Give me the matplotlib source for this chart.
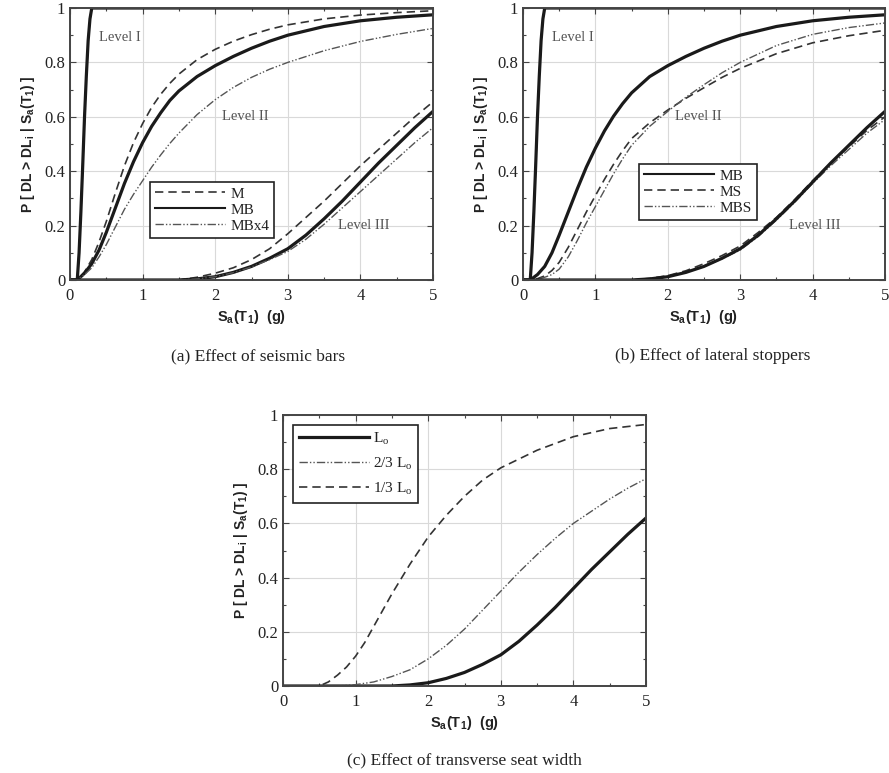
import matplotlib
matplotlib.use("Agg")
import matplotlib.pyplot as plt
from matplotlib.ticker import MultipleLocator

plt.rcParams['font.family'] = ['Liberation Serif', 'DejaVu Serif']
plt.rcParams['mathtext.fontset'] = 'custom'
plt.rcParams['mathtext.rm'] = 'Liberation Sans'

# ---------------- data ----------------
# Level I (all variants nearly identical)
x_L1 = [0, 0.1, 0.125, 0.15, 0.175, 0.2, 0.225, 0.25, 0.275, 0.3, 5]
y_L1 = [0, 0, 0.1, 0.25, 0.42, 0.6, 0.75, 0.88, 0.96, 1.0, 1.0]

# Level II
x_L2 = [0, 0.1, 0.2, 0.3, 0.4, 0.5, 0.625, 0.75, 0.875, 1, 1.125, 1.25, 1.375, 1.5, 1.75, 2,
        2.25, 2.5, 2.75, 3, 3.5, 4, 4.5, 5]
MB_L2 = [0, 0, 0.025, 0.06, 0.11, 0.175, 0.265, 0.355, 0.435, 0.505, 0.565, 0.615, 0.66, 0.695, 0.748, 0.788,
         0.822, 0.852, 0.878, 0.90, 0.932, 0.953, 0.966, 0.975]
M_L2 = [0, 0, 0.03, 0.075, 0.14, 0.215, 0.32, 0.42, 0.505, 0.575, 0.635, 0.683, 0.723, 0.757, 0.81, 0.848,
        0.878, 0.902, 0.922, 0.938, 0.96, 0.974, 0.983, 0.99]
MBx4_L2 = [0, 0, 0.02, 0.045, 0.085, 0.13, 0.195, 0.26, 0.315, 0.365, 0.415, 0.46, 0.502, 0.54, 0.608, 0.663,
           0.708, 0.745, 0.775, 0.80, 0.843, 0.877, 0.903, 0.925]
MS_L2 = [0, 0, 0.005, 0.015, 0.035, 0.065, 0.12, 0.185, 0.25, 0.31, 0.37, 0.425, 0.475, 0.52, 0.578, 0.625,
         0.668, 0.707, 0.745, 0.778, 0.832, 0.872, 0.898, 0.918]
MBS_L2 = [0, 0, 0.003, 0.01, 0.02, 0.04, 0.085, 0.145, 0.21, 0.27, 0.33, 0.39, 0.445, 0.495, 0.565, 0.62,
          0.672, 0.718, 0.762, 0.80, 0.862, 0.903, 0.928, 0.945]
MB_L2b = [0, 0, 0.02, 0.05, 0.1, 0.165, 0.25, 0.335, 0.415, 0.485, 0.548, 0.602, 0.648, 0.688, 0.748, 0.788,
          0.822, 0.852, 0.878, 0.90, 0.932, 0.953, 0.966, 0.975]

# Level III
x_L3 = [0, 1.5, 1.75, 2, 2.25, 2.5, 2.75, 3, 3.25, 3.5, 3.75, 4, 4.25, 4.5, 4.75, 5]
MB_L3 = [0, 0, 0.004, 0.012, 0.028, 0.05, 0.08, 0.115, 0.165, 0.225, 0.29, 0.36, 0.43, 0.495, 0.56, 0.62]
M_L3 = [0, 0, 0.01, 0.025, 0.045, 0.075, 0.115, 0.17, 0.23, 0.29, 0.355, 0.42, 0.48, 0.54, 0.60, 0.655]
MBx4_L3 = [0, 0, 0.004, 0.012, 0.027, 0.048, 0.075, 0.105, 0.15, 0.205, 0.265, 0.325, 0.385, 0.445, 0.505, 0.56]
MS_L3 = [0, 0, 0.006, 0.016, 0.034, 0.06, 0.09, 0.125, 0.175, 0.23, 0.295, 0.365, 0.43, 0.49, 0.55, 0.60]
MBS_L3 = [0, 0, 0.004, 0.012, 0.028, 0.05, 0.078, 0.11, 0.16, 0.22, 0.285, 0.355, 0.42, 0.48, 0.54, 0.59]

# Panel (c): seat width
x_23 = [0, 0.75, 1, 1.25, 1.5, 1.75, 2, 2.25, 2.5, 2.75, 3, 3.25, 3.5, 3.75, 4, 4.25, 4.5, 4.75, 5]
y_23 = [0, 0, 0.005, 0.015, 0.035, 0.06, 0.10, 0.15, 0.21, 0.28, 0.35, 0.42, 0.485, 0.545, 0.60, 0.645, 0.69, 0.73, 0.765]
x_13 = [0, 0.5, 0.625, 0.75, 0.875, 1, 1.125, 1.25, 1.375, 1.5, 1.75, 2, 2.25, 2.5, 2.75, 3, 3.5, 4, 4.5, 5]
y_13 = [0, 0, 0.015, 0.04, 0.07, 0.11, 0.16, 0.22, 0.28, 0.34, 0.45, 0.55, 0.63, 0.70, 0.76, 0.805, 0.87, 0.92, 0.95, 0.965]

xticks = [0, 1, 2, 3, 4, 5]
yticks = [0, 0.2, 0.4, 0.6, 0.8, 1]
ytick_labels = ['0', '0.2', '0.4', '0.6', '0.8', '1']

ylabel = r'P [ DL > DL$_\mathregular{i}$ | S$_\mathregular{a}$(T$_\mathregular{1}$) ]'
xlabel = r'S$_\mathregular{a}$(T$_\mathregular{1}$)  (g)'

# ---------------- styles ----------------
C_SOLID = '#1a1a1a'
C_DASH = '#333333'
C_DD = '#555555'
SOLID = dict(color=C_SOLID, lw=2.3, ls='-')
DASH = dict(color=C_DASH, lw=1.2, ls=(0, (5, 3)))
DD = dict(color=C_DD, lw=1.0, ls=(0, (6, 1.5, 1, 1.5, 1, 1.5)))

fig = plt.figure(figsize=(8.89, 7.73), dpi=100)


def style_axes(ax):
    ax.set_xlim(0, 5)
    ax.set_ylim(0, 1)
    ax.set_xticks(xticks)
    ax.set_yticks(yticks)
    ax.set_yticklabels(ytick_labels)
    ax.xaxis.set_minor_locator(MultipleLocator(0.5))
    ax.yaxis.set_minor_locator(MultipleLocator(0.1))
    ax.tick_params(which='both', direction='in', top=True, right=True, colors='#444444',
                   labelcolor='#222222', labelsize=12)
    ax.tick_params(which='major', length=4, width=0.8)
    ax.tick_params(which='minor', length=2.5, width=0.8)
    ax.tick_params(axis='x', pad=6)
    ax.grid(True, which='major', color='#d9d9d9', lw=0.8)
    ax.set_axisbelow(True)
    for s in ax.spines.values():
        s.set_color('#444444')
        s.set_linewidth(1.4)
    ax.set_ylabel(ylabel, fontsize=10, color='#222222', labelpad=5,
                  family='Liberation Sans', weight='bold')
    ax.set_xlabel(xlabel, fontsize=10.5, color='#222222', labelpad=3,
                  family='Liberation Sans', weight='bold')


def legend(ax, handles, labels, loc, anchor, spacing=0.15):
    lg = ax.legend(handles, labels, loc=loc, bbox_to_anchor=anchor, fancybox=False,
                   edgecolor='#222222', framealpha=1, fontsize=11, handlelength=4.6,
                   handletextpad=0.3, borderpad=0.35, labelspacing=spacing, borderaxespad=0)
    lg.get_frame().set_linewidth(1.2)
    for t in lg.get_texts():
        t.set_color('#222222')
    return lg


# ---------------- panel (a) ----------------
axa = fig.add_axes([70 / 889, 1 - 280 / 773, 363 / 889, 272 / 773])
style_axes(axa)
axa.plot(x_L1, y_L1, **DD)
axa.plot(x_L1, y_L1, **DASH)
axa.plot(x_L1, y_L1, **SOLID)
hM, = axa.plot(x_L2, M_L2, **DASH)
hMB, = axa.plot(x_L2, MB_L2, **SOLID)
hMBx4, = axa.plot(x_L2, MBx4_L2, **DD)
axa.plot(x_L3, M_L3, **DASH)
axa.plot(x_L3, MB_L3, **SOLID)
axa.plot(x_L3, MBx4_L3, **DD)
for txt, (tx, ty) in zip(['Level I', 'Level II', 'Level III'], [(0.69, 0.89), (2.41, 0.60), (4.05, 0.20)]):
    axa.text(tx, ty, txt, fontsize=10.5, color='#555555', ha='center', va='center')
la = legend(axa, [hM, hMB, hMBx4], ['M', 'MB', 'MBx4'], 'lower left', (0.22, 0.154))
for h in la.legend_handles:
    h.set_linewidth(min(h.get_linewidth(), 1.5))
fig.text(258 / 889, 1 - 356 / 773, '(a) Effect of seismic bars', fontsize=12.5,
         ha='center', va='center', color='#222222')

# ---------------- panel (b) ----------------
axb = fig.add_axes([523 / 889, 1 - 280 / 773, 362 / 889, 272 / 773])
style_axes(axb)
axb.plot(x_L1, y_L1, **DD)
axb.plot(x_L1, y_L1, **DASH)
axb.plot(x_L1, y_L1, **SOLID)
hMS, = axb.plot(x_L2, MS_L2, **DASH)
hMBS, = axb.plot(x_L2, MBS_L2, **DD)
hMB2, = axb.plot(x_L2, MB_L2b, **SOLID)
axb.plot(x_L3, MS_L3, **DASH)
axb.plot(x_L3, MBS_L3, **DD)
axb.plot(x_L3, MB_L3, **SOLID)
for txt, (tx, ty) in zip(['Level I', 'Level II', 'Level III'], [(0.69, 0.89), (2.42, 0.60), (4.03, 0.20)]):
    axb.text(tx, ty, txt, fontsize=10.5, color='#555555', ha='center', va='center')
lb = legend(axb, [hMB2, hMS, hMBS], ['MB', 'MS', 'MBS'], 'lower left', (0.32, 0.22))
for h in lb.legend_handles:
    h.set_linewidth(min(h.get_linewidth(), 1.5))
fig.text(713 / 889, 1 - 356 / 773, '(b) Effect of lateral stoppers', fontsize=12.5,
         ha='center', va='center', color='#222222')

# ---------------- panel (c) ----------------
axc = fig.add_axes([283 / 889, 1 - 686 / 773, 363 / 889, 271 / 773])
style_axes(axc)
hLo, = axc.plot(x_L3, MB_L3, **SOLID)
h23, = axc.plot(x_23, y_23, **DD)
h13, = axc.plot(x_13, y_13, **DASH)
legend(axc, [hLo, h23, h13],
       [r'L$_\mathregular{o}$', r'2/3 L$_\mathregular{o}$', r'1/3 L$_\mathregular{o}$'],
       'upper left', (0.028, 0.963), spacing=0.55)
fig.text(464 / 889, 1 - 760 / 773, '(c) Effect of transverse seat width', fontsize=12.5,
         ha='center', va='center', color='#222222')

fig.savefig('out.png', dpi=100)
